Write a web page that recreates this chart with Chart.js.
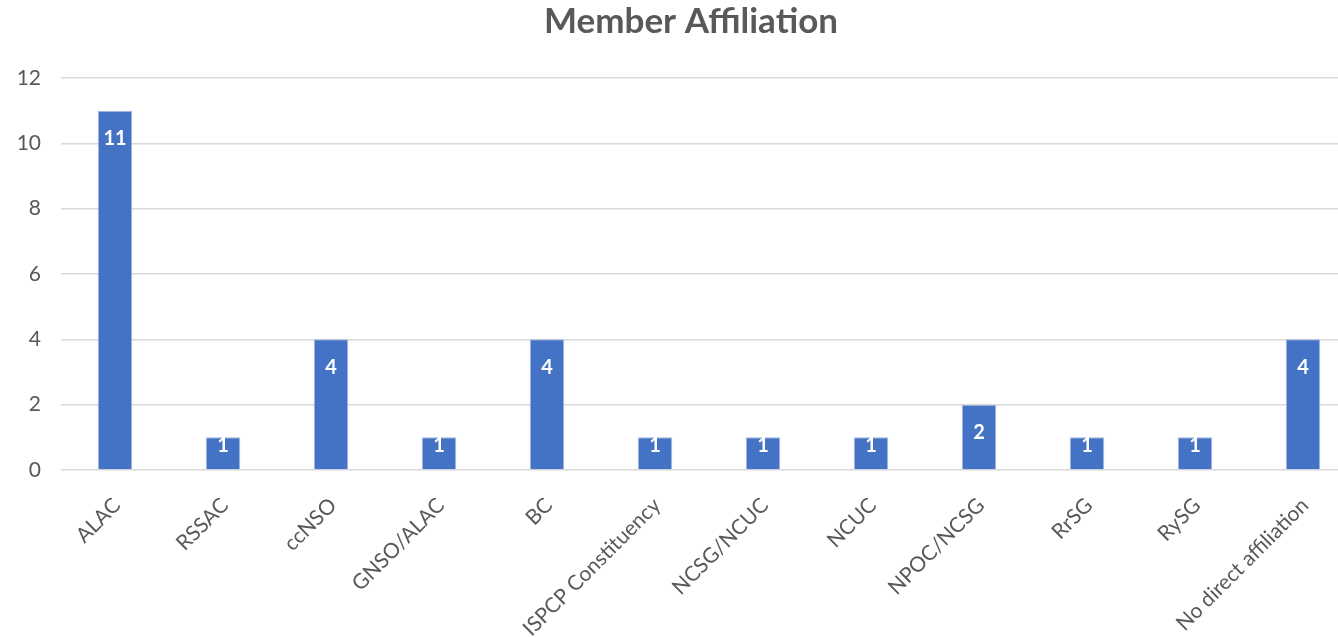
<!DOCTYPE html>
<html>
<head>
<meta charset="utf-8">
<script src="https://cdn.jsdelivr.net/npm/chart.js@4"></script>
<style>
  html, body { margin: 0; padding: 0; background: #fff; }
  #wrap { width: 1338px; height: 637px; }
</style>
</head>
<body>
<div id="wrap"><canvas id="chartAffiliation"></canvas></div>
<script>
var categories = [
    "ALAC",
    "RSSAC",
    "ccNSO",
    "GNSO/ALAC",
    "BC",
    "ISPCP Constituency",
    "NCSG/NCUC",
    "NCUC",
    "NPOC/NCSG",
    "RrSG",
    "RySG",
    "No direct affiliation",
];
var members = [11, 1, 4, 1, 4, 1, 1, 1, 2, 1, 1, 4];
var yTicks = [0, 2, 4, 6, 8, 10, 12];
var chartTitle = "Member Affiliation";

// the original plot runs a bit past the right edge of the picture
var widePlot = {
    id: "widePlot",
    afterLayout: function (chart) {
        var x = chart.scales.x;
        x.right = x.left + 1296;
        x.width = 1296;
        x.configure();
    },
};

// title and white value labels inside the top of each bar
var barLabels = {
    id: "barLabels",
    afterDatasetsDraw: function (chart) {
        var ctx = chart.ctx;
        var meta = chart.getDatasetMeta(0);
        ctx.save();
        ctx.fillStyle = "#ffffff";
        ctx.font = "bold 20px Lato";
        ctx.textAlign = "center";
        ctx.textBaseline = "middle";
        meta.data.forEach(function (bar, i) {
            var h = bar.base - bar.y;
            var y = bar.y + Math.min(28, h - 24);
            ctx.fillText(members[i], bar.x, y);
        });
        ctx.fillStyle = "#595959";
        ctx.font = "bold 35px Lato";
        ctx.fillText(chartTitle, 691, 22);
        ctx.restore();
    },
};

var ctxAff = document.getElementById("chartAffiliation").getContext("2d");
var chart1 = new Chart(ctxAff, {
    type: "bar",
    data: {
        labels: categories,
        datasets: [{
            label: "Members",
            backgroundColor: "#4472C4",
            borderColor: "#a6bbe3",
            borderWidth: 1,
            data: members,
            categoryPercentage: 1,
            barPercentage: 0.32,
        }],
    },
    options: {
        responsive: true,
        maintainAspectRatio: false,
        animation: false,
        layout: { padding: { left: 0, top: 78, bottom: 0, right: 0 } },
        plugins: {
            legend: { display: false },
            tooltip: { enabled: false },
            title: { display: false },
        },
        scales: {
            x: {
                grid: { display: false },
                border: { display: false },
                ticks: {
                    color: "#595959",
                    font: { family: "Lato", size: 21 },
                    maxRotation: 45,
                    minRotation: 45,
                    autoSkip: false,
                    padding: 15,
                    labelOffset: 2,
                },
                afterFit: function (scale) { scale.height = 167; },
            },
            y: {
                min: 0,
                max: 12,
                afterBuildTicks: function (scale) {
                    scale.ticks = yTicks.map(function (v) { return { value: v }; });
                },
                grid: { color: "#d9d9d9", lineWidth: 1.5, drawTicks: false },
                border: { display: false },
                ticks: {
                    color: "#595959",
                    font: { family: "Lato", size: 21 },
                    padding: 20,
                },
                afterFit: function (scale) { scale.width = 61; },
            },
        },
    },
    plugins: [widePlot, barLabels],
});
</script>
</body>
</html>
